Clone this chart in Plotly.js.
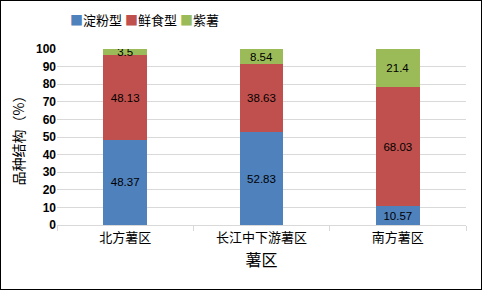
<!DOCTYPE html>
<html><head><meta charset="utf-8">
<script src="https://cdn.plot.ly/plotly-3.0.1.min.js"></script>
<style>html,body{margin:0;padding:0;background:#fff}#c{width:482px;height:290px;box-sizing:border-box;border:1px solid #000}</style>
</head><body><div id="c"></div>
<script>
const categories = ['北方薯区', '长江中下游薯区', '南方薯区'];
const starch = [48.37, 52.83, 10.57];
const fresh = [48.13, 38.63, 68.03];
const purple = [3.5, 8.54, 21.4];
const seriesNames = ['淀粉型', '鲜食型', '紫薯'];
const colors = ['#4F81BD', '#C0504D', '#9BBB59'];
const font = '"Noto Sans CJK SC", "Liberation Sans", sans-serif';
const mk = (y, i) => ({
  type: 'bar', x: categories, y: y, name: seriesNames[i],
  marker: {color: colors[i]}, text: y.map(String), textposition: 'inside', constraintext: 'none',
  insidetextanchor: 'middle', textfont: {family: 'Liberation Sans, sans-serif', size: 11.5, color: '#000'},
  hoverinfo: 'none', showlegend: false
});
const data = [mk(starch, 0), mk(fresh, 1), mk(purple, 2)];
const legendText = seriesNames.map((n, i) => '<span style="color:' + colors[i] + '">■</span>' + n).join(' ');
const layout = {
  width: 480, height: 288, barmode: 'stack', bargap: 0.68,
  margin: {l: 56, r: 15, t: 48, b: 64},
  paper_bgcolor: '#fff', plot_bgcolor: '#fff',
  font: {family: font, color: '#000'},
  annotations: [{xref: 'paper', yref: 'paper', x: 0.028, y: 1.17, xanchor: 'left', yanchor: 'middle', showarrow: false,
    text: legendText, font: {size: 13, family: font, color: '#000'}}],
  xaxis: {tickfont: {size: 13, family: font}, showline: true, linecolor: '#D9D9D9', ticks: 'outside', tickson: 'boundaries',
    tickcolor: '#D9D9D9', ticklen: 5, showgrid: false,
    title: {text: '薯区', font: {size: 16, family: font}, standoff: 10}},
  yaxis: {range: [0, 100], dtick: 10, tickfont: {size: 12, family: 'Liberation Sans, sans-serif', weight: 'bold'}, gridcolor: '#D9D9D9', showline: false, zeroline: false,
    ticks: '', ticklen: 0,
    title: {text: '品种结构（%）', font: {size: 14, family: font}, standoff: 8}}
};
Plotly.newPlot('c', data, layout, {displayModeBar: false, staticPlot: true});
</script></body></html>
